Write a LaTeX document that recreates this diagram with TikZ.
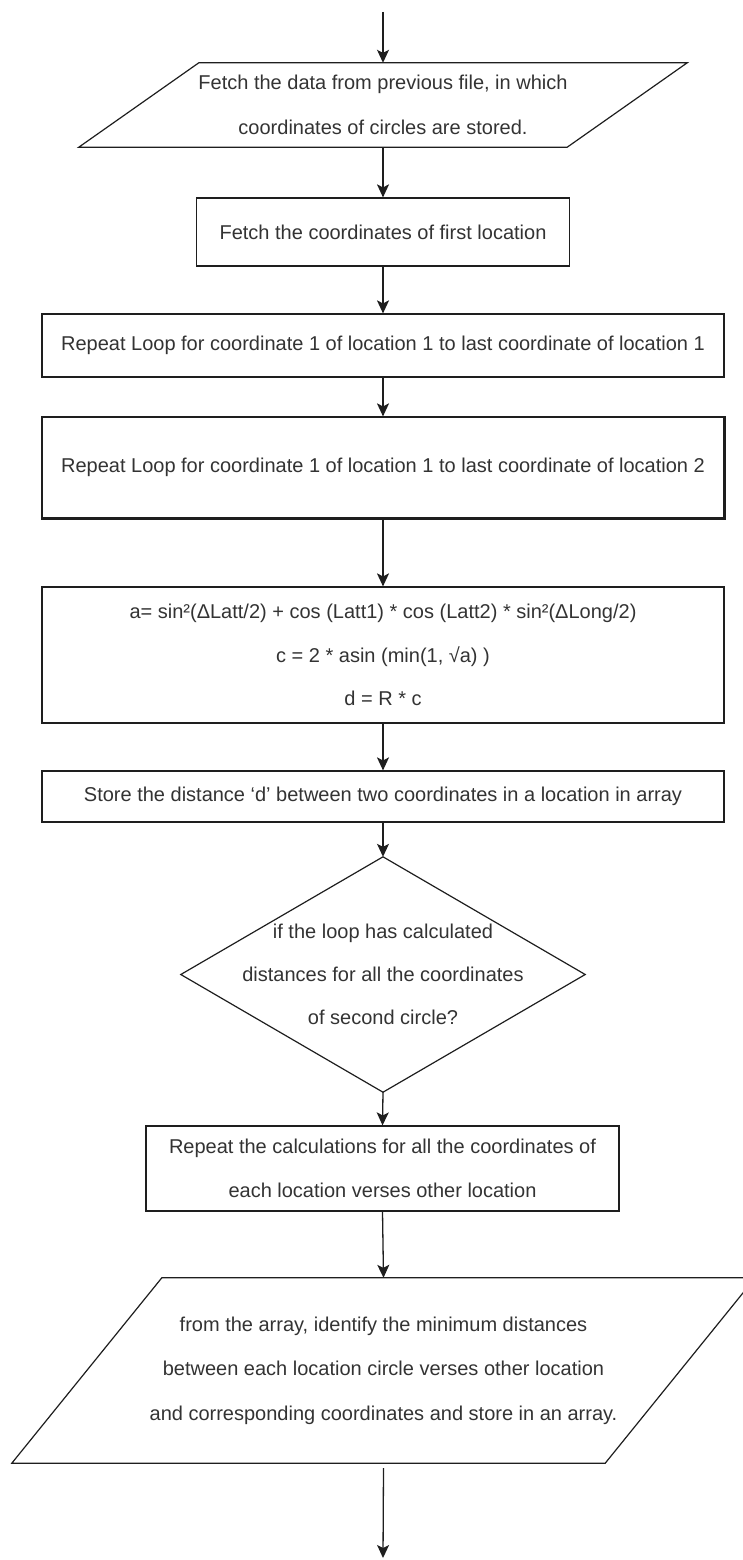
\documentclass[tikz,border=0pt]{standalone}
\usepackage{fontspec}
\setmainfont{Liberation Sans}
\usetikzlibrary{arrows.meta,calc}
\definecolor{ink}{HTML}{1E1E1E}
\definecolor{txt}{HTML}{333333}
\begin{document}
\begin{tikzpicture}[x=1pt,y=-1pt,
  every node/.style={font=\fontsize{20}{44}\selectfont, text=txt, align=center, inner sep=0pt},
  proc/.style={draw=ink, line width=1.2pt, fill=white},
  outline/.style={draw=ink, line width=1.2pt},
  flow/.style={draw=ink, line width=1.3pt, -{Stealth[length=13pt,width=12pt,inset=3pt]}}]
\useasboundingbox (0,0) rectangle (742,1560);

% entry point
\coordinate (start) at (383,12);

% input: data file
\node (p1) [minimum width=608pt, minimum height=84pt, font=\fontsize{20}{45}\selectfont] at (383,105)
  {Fetch the data from previous file, in which\\coordinates of circles are stored.};
\draw[outline] ($(p1.north west)+(120,0)$) -- (p1.north east) -- ($(p1.south east)+(-120,0)$) -- (p1.south west) -- cycle;

% processing steps
\node (b2) [proc, minimum width=373pt, minimum height=68pt] at (383,232)
  {Fetch the coordinates of first location};
\node (b3) [proc, minimum width=682pt, minimum height=63pt] at (383,345.5)
  {Repeat Loop for coordinate 1 of location 1 to last coordinate of location 1};
\node (b4) [proc, minimum width=682pt, minimum height=101pt] at (383,467.5)
  {Repeat Loop for coordinate 1 of location 1 to last coordinate of location 2};
% heavier lower and right edges on the inner loop box
\draw[ink, line width=2.6pt] (b4.north east) -- (b4.south east) -- (b4.south west);
\node (b5) [proc, minimum width=682pt, minimum height=136pt, font=\fontsize{20}{43.5}\selectfont] at (383,655)
  {a= sin²(ΔLatt/2) + cos (Latt1) * cos (Latt2) * sin²(ΔLong/2)\\c = 2 * asin (min(1, √a) )\\d = R * c};
\node (b6) [proc, minimum width=682pt, minimum height=51pt] at (383,796.5)
  {Store the distance ‘d’ between two coordinates in a location in array};

% decision
\node (dec) [minimum width=404pt, minimum height=235pt, font=\fontsize{20}{43}\selectfont] at (383,974.5)
  {if the loop has calculated\\distances for all the coordinates\\of second circle?};
\draw[outline] (dec.north) -- (dec.east) -- (dec.south) -- (dec.west) -- cycle;

\node (b7) [proc, minimum width=473pt, minimum height=85pt] at (382.5,1168.5)
  {Repeat the calculations for all the coordinates of\\each location verses other location};

% output: minimum distances
\node (p2) [minimum width=743pt, minimum height=185pt, font=\fontsize{20}{44.5}\selectfont] at (383.5,1370.5)
  {from the array, identify the minimum distances\\between each location circle verses other location\\and corresponding coordinates and store in an array.};
\draw[outline] ($(p2.north west)+(150,0)$) -- (p2.north east) -- ($(p2.south east)+(-150,0)$) -- (p2.south west) -- cycle;

\coordinate (finish) at (383,1558);

% connectors
\draw[flow] (start) -- (p1.north);
\draw[flow] (p1.south) -- (b2.north);
\draw[flow] (b2.south) -- (b3.north);
\draw[flow] (b3.south) -- (b4.north);
\draw[flow] (b4.south) -- (b5.north);
\draw[flow] (b5.south) -- (b6.north);
\draw[flow] (b6.south) -- (dec.north);
\draw[flow] (dec.south) -- (b7.north);
\draw[flow] (b7.south) -- (p2.north);
\draw[flow] ($(p2.south)+(0,5)$) -- (finish);
\end{tikzpicture}
\end{document}
